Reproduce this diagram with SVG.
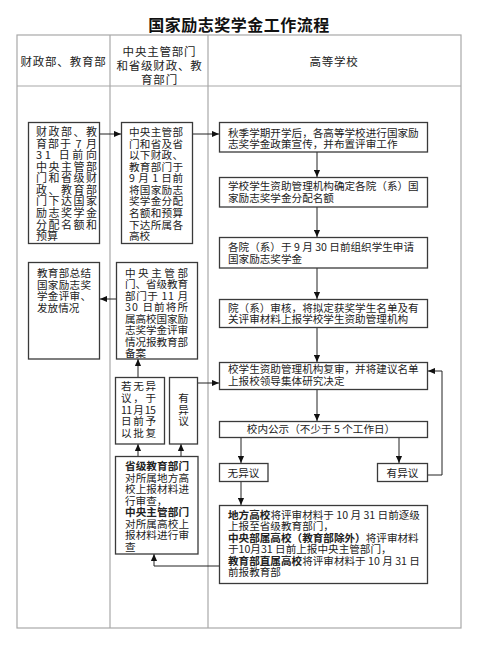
<svg xmlns="http://www.w3.org/2000/svg" width="484" height="651" viewBox="0 0 484 651">
<defs>
<marker id="ah" viewBox="0 0 8 8" refX="8" refY="4" markerWidth="7" markerHeight="7" markerUnits="userSpaceOnUse" orient="auto">
<path d="M0,0.5 L8,4 L0,7.5 Z" fill="#111"/>
</marker>
<style>
text{font-family:"Noto Sans CJK SC","Noto Sans",sans-serif;fill:#222;font-size:10.6px}
.t{font-size:16px;font-weight:bold;fill:#111;letter-spacing:0.5px}
.h{font-size:11.5px;letter-spacing:0.8px}
.n{font-size:11px}
.b{font-weight:bold}
.grid{fill:none;stroke:#a8a8a8;stroke-width:1.2}
.box{fill:#fff;stroke:#3a3a3a;stroke-width:1.3}
.c{fill:none;stroke:#222;stroke-width:1}
</style>
</defs>
<rect width="484" height="651" fill="#fff"/>
<text class="t" x="239" y="31" text-anchor="middle">国家励志奖学金工作流程</text>
<g id="table">
<rect class="grid" x="17" y="35" width="444" height="593"/>
<line class="grid" x1="17" y1="86" x2="461" y2="86"/>
<line class="grid" x1="110" y1="35" x2="110" y2="628"/>
<line class="grid" x1="208" y1="35" x2="208" y2="628"/>
<text class="h" x="63.5" y="66.4" text-anchor="middle">财政部、教育部</text>
<text class="h" text-anchor="middle"><tspan x="159.5" y="56.4">中央主管部门</tspan><tspan x="159.5" y="70.4">和省级财政、教</tspan><tspan x="159.5" y="83.9">育部门</tspan></text>
<text class="h" x="334" y="66.4" text-anchor="middle">高等学校</text>
</g>
<g id="connectors">
<line class="c" x1="100" y1="134" x2="121" y2="134" marker-end="url(#ah)"/>
<line class="c" x1="193" y1="134" x2="219" y2="134" marker-end="url(#ah)"/>
<line class="c" x1="317" y1="152" x2="317" y2="177" marker-end="url(#ah)"/>
<line class="c" x1="317" y1="207" x2="317" y2="237" marker-end="url(#ah)"/>
<line class="c" x1="317" y1="268" x2="317" y2="299" marker-end="url(#ah)"/>
<line class="c" x1="317" y1="327" x2="317" y2="362" marker-end="url(#ah)"/>
<line class="c" x1="317" y1="389" x2="317" y2="421" marker-end="url(#ah)"/>
<line class="c" x1="241" y1="437" x2="241" y2="463" marker-end="url(#ah)"/>
<line class="c" x1="399" y1="437" x2="399" y2="463" marker-end="url(#ah)"/>
<polyline class="c" points="427,475 442,475 442,371 428,371" marker-end="url(#ah)"/>
<line class="c" x1="241" y1="481" x2="241" y2="505" marker-end="url(#ah)"/>
<polyline class="c" points="219,566 154,566 154,554" marker-end="url(#ah)"/>
<line class="c" x1="138" y1="456" x2="138" y2="444" marker-end="url(#ah)"/>
<line class="c" x1="181" y1="456" x2="181" y2="444" marker-end="url(#ah)"/>
<line class="c" x1="138" y1="377" x2="138" y2="359" marker-end="url(#ah)"/>
<line class="c" x1="197" y1="383" x2="219" y2="383" marker-end="url(#ah)"/>
<line class="c" x1="116" y1="299" x2="100" y2="299" marker-end="url(#ah)"/>
</g>
<g id="nodeA">
<rect class="box" x="28.5" y="122.5" width="71" height="121"/>
<text class="n"><tspan x="36" y="136" textLength="61" lengthAdjust="spacing">财政部、教</tspan><tspan x="36" y="147.6" textLength="61" lengthAdjust="spacing">育部于 7 月</tspan><tspan x="36" y="159.1" textLength="61" lengthAdjust="spacing">31 日前向</tspan><tspan x="36" y="170.7" textLength="61" lengthAdjust="spacing">中央主管部</tspan><tspan x="36" y="182.2" textLength="61" lengthAdjust="spacing">门和省级财</tspan><tspan x="36" y="193.8" textLength="61" lengthAdjust="spacing">政、教育部</tspan><tspan x="36" y="205.4" textLength="61" lengthAdjust="spacing">门下达国家</tspan><tspan x="36" y="216.9" textLength="61" lengthAdjust="spacing">励志奖学金</tspan><tspan x="36" y="228.5" textLength="61" lengthAdjust="spacing">分配名额和</tspan><tspan x="36" y="240">预算</tspan></text>
</g>
<g id="nodeB">
<rect class="box" x="121.5" y="122.5" width="71" height="121"/>
<text><tspan x="129" y="136" textLength="54" lengthAdjust="spacing">中央主管部</tspan><tspan x="129" y="147.6" textLength="54" lengthAdjust="spacing">门和省及省</tspan><tspan x="129" y="159.1" textLength="54" lengthAdjust="spacing">以下财政、</tspan><tspan x="129" y="170.7" textLength="54" lengthAdjust="spacing">教育部门于</tspan><tspan x="129" y="182.2" textLength="54" lengthAdjust="spacing">9 月 1 日前</tspan><tspan x="129" y="193.8" textLength="54" lengthAdjust="spacing">将国家励志</tspan><tspan x="129" y="205.4" textLength="54" lengthAdjust="spacing">奖学金分配</tspan><tspan x="129" y="216.9" textLength="54" lengthAdjust="spacing">名额和预算</tspan><tspan x="129" y="228.5" textLength="54" lengthAdjust="spacing">下达所属各</tspan><tspan x="129" y="240">高校</tspan></text>
</g>
<g id="nodeC">
<rect class="box" x="219.5" y="122.5" width="208" height="29.5"/>
<text><tspan x="228" y="136.5">秋季学期开学后，各高等学校进行国家励</tspan><tspan x="228" y="148">志奖学金政策宣传，并布置评审工作</tspan></text>
</g>
<g id="nodeD">
<rect class="box" x="219.5" y="177.5" width="208" height="29.5"/>
<text><tspan x="228" y="190">学校学生资助管理机构确定各院（系）国</tspan><tspan x="228" y="201.5">家励志奖学金分配名额</tspan></text>
</g>
<g id="nodeE">
<rect class="box" x="219.5" y="237.5" width="208" height="30.5"/>
<text><tspan x="228" y="251">各院（系）于 9 月 30 日前组织学生申请</tspan><tspan x="228" y="263">国家励志奖学金</tspan></text>
</g>
<g id="nodeF">
<rect class="box" x="219.5" y="299.5" width="208" height="28"/>
<text><tspan x="228" y="311.5">院（系）审核，将拟定获奖学生名单及有</tspan><tspan x="228" y="323">关评审材料上报学校学生资助管理机构</tspan></text>
</g>
<g id="nodeG">
<rect class="box" x="219.5" y="362.5" width="208" height="27"/>
<text><tspan x="228" y="373">校学生资助管理机构复审，并将建议名单</tspan><tspan x="228" y="384.5">上报校领导集体研究决定</tspan></text>
</g>
<g id="nodeK">
<rect class="box" x="219.5" y="421.5" width="208" height="16"/>
<text x="321" y="433" text-anchor="middle">校内公示（不少于 5 个工作日）</text>
</g>
<g id="nodeNo">
<rect class="box" x="219.5" y="463.5" width="48.5" height="18"/>
<text x="243.5" y="476.5" text-anchor="middle">无异议</text>
</g>
<g id="nodeYes">
<rect class="box" x="377.5" y="463.5" width="50" height="18"/>
<text x="402.5" y="476.5" text-anchor="middle">有异议</text>
</g>
<g id="nodeJ">
<rect class="box" x="219.5" y="505.5" width="208" height="78"/>
<text><tspan x="228" y="518.5"><tspan class="b">地方高校</tspan>将评审材料于 10 月 31 日前逐级</tspan><tspan x="228" y="530">上报至省级教育部门，</tspan><tspan x="228" y="541.5"><tspan class="b">中央部属高校（教育部除外）</tspan>将评审材料</tspan><tspan x="228" y="553">于10月31 日前上报中央主管部门，</tspan><tspan x="228" y="564.5"><tspan class="b">教育部直属高校</tspan>将评审材料于 10 月 31 日</tspan><tspan x="228" y="576">前报教育部</tspan></text>
</g>
<g id="nodeH1">
<rect class="box" x="28.5" y="262.5" width="71" height="96.5"/>
<text><tspan x="37" y="277" textLength="54" lengthAdjust="spacing">教育部总结</tspan><tspan x="37" y="288.6" textLength="54" lengthAdjust="spacing">国家励志奖</tspan><tspan x="37" y="300.2" textLength="54" lengthAdjust="spacing">学金评审、</tspan><tspan x="37" y="311.8">发放情况</tspan></text>
</g>
<g id="nodeH2">
<rect class="box" x="116.5" y="262.5" width="81" height="96.5"/>
<text><tspan x="125" y="277" textLength="63" lengthAdjust="spacing">中 央 主 管 部</tspan><tspan x="125" y="288.4" textLength="63" lengthAdjust="spacing">门、省级教育</tspan><tspan x="125" y="299.9" textLength="63" lengthAdjust="spacing">部门于 11 月</tspan><tspan x="125" y="311.3" textLength="63" lengthAdjust="spacing">30 日前将所</tspan><tspan x="125" y="322.7" textLength="63" lengthAdjust="spacing">属高校国家励</tspan><tspan x="125" y="334.1" textLength="63" lengthAdjust="spacing">志奖学金评审</tspan><tspan x="125" y="345.6" textLength="63" lengthAdjust="spacing">情况报教育部</tspan><tspan x="125" y="357">备案</tspan></text>
</g>
<g id="nodeNoObj">
<rect class="box" x="115.5" y="377.5" width="49" height="66.5"/>
<text><tspan x="121" y="390" textLength="35" lengthAdjust="spacing">若无异</tspan><tspan x="121" y="401.8" textLength="35" lengthAdjust="spacing">议，于</tspan><tspan x="121" y="413.5" textLength="35" lengthAdjust="spacing">11 月 15</tspan><tspan x="121" y="425.3" textLength="35" lengthAdjust="spacing">日前予</tspan><tspan x="121" y="437" textLength="35" lengthAdjust="spacing">以批复</tspan></text>
</g>
<g id="nodeObj">
<rect class="box" x="169.5" y="377.5" width="28" height="66.5"/>
<text text-anchor="middle"><tspan x="183.5" y="402">有</tspan><tspan x="183.5" y="413.5">异</tspan><tspan x="183.5" y="425">议</tspan></text>
</g>
<g id="nodeI">
<rect class="box" x="115.5" y="456.5" width="82.5" height="97.5"/>
<text><tspan x="125" y="470" textLength="64" lengthAdjust="spacing" class="b">省级教育部门</tspan><tspan x="125" y="481.6" textLength="64" lengthAdjust="spacing">对所属地方高</tspan><tspan x="125" y="493.1" textLength="64" lengthAdjust="spacing">校上报材料进</tspan><tspan x="125" y="504.7">行审查，</tspan><tspan x="125" y="516.3" textLength="64" lengthAdjust="spacing" class="b">中央主管部门</tspan><tspan x="125" y="527.9" textLength="64" lengthAdjust="spacing">对所属高校上</tspan><tspan x="125" y="539.4" textLength="64" lengthAdjust="spacing">报材料进行审</tspan><tspan x="125" y="551">查</tspan></text>
</g>
</svg>
